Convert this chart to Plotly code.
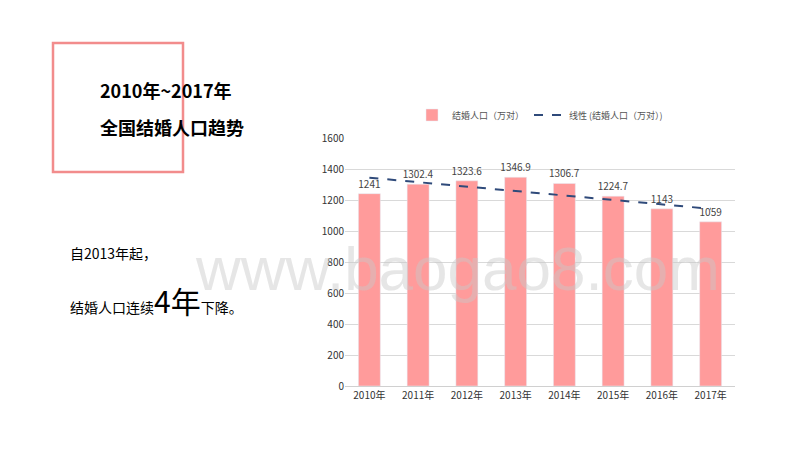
import numpy as np
import plotly.graph_objects as go

years = ["2010年", "2011年", "2012年", "2013年", "2014年", "2015年", "2016年", "2017年"]
marriages = [1241, 1302.4, 1323.6, 1346.9, 1306.7, 1224.7, 1143, 1059]
y_ticks = [0, 200, 400, 600, 800, 1000, 1200, 1400, 1600]

# linear trendline, like the spreadsheet one
idx = np.arange(len(marriages))
k, b = np.polyfit(idx, marriages, 1)
trend = k * idx + b

OFF = 8  # page body margin
W, H = 784, 434
L, R, T, B = 345 - OFF, 735 - OFF, 138 - OFF, 386 - OFF
def px(x):
    return (x - OFF - L) / (R - L)
def py(y):
    return (B - (y - OFF)) / (B - T)

font = "Noto Sans CJK SC"
fig = go.Figure()
fig.add_bar(x=years, y=marriages, name="结婚人口（万对）", marker_color="#FF9B9B",
            width=0.45, text=[f"{v:g}" for v in marriages], textposition="outside",
            constraintext="none", textfont=dict(size=10, color="#444"), cliponaxis=False)
fig.add_scatter(x=years, y=trend, mode="lines", name="线性 (结婚人口（万对）)",
                line=dict(color="#2F4A7A", width=2, dash="dash"))

fig.update_layout(
    width=W, height=H, margin=dict(l=L, r=W - R, t=T, b=H - B),
    plot_bgcolor="white", paper_bgcolor="white",
    font=dict(family=font, size=10, color="#333"),
    legend=dict(orientation="h", x=0.5, xanchor="center", y=py(115), yanchor="middle",
                font=dict(size=9, color="#555")),
    xaxis=dict(showline=True, linecolor="#d0d0d0", tickfont=dict(size=10)),
    yaxis=dict(range=[0, 1600], tickvals=y_ticks, gridcolor="#d9d9d9",
               zeroline=False, tickfont=dict(size=10)),
    shapes=[dict(type="rect", xref="paper", yref="paper", x0=px(53), x1=px(183),
                 y0=py(172), y1=py(43), line=dict(color="#F28C8C", width=2.5))],
)

def note(x, y, text, size):
    fig.add_annotation(xref="paper", yref="paper", x=px(x), y=py(y), text=text,
                       showarrow=False, xanchor="left", yanchor="middle",
                       font=dict(family=font, size=size, color="black"))

note(98, 90, "<b>2010年~2017年</b>", 18)
note(98, 127, "<b>全国结婚人口趋势</b>", 18)
note(68, 253, "自2013年起，", 14)
note(68, 300, "结婚人口连续<span style='font-size:30px'>4年</span>下降。", 14)
fig.add_annotation(xref="paper", yref="paper", x=px(457), y=py(268), text="www.baogao8.com",
                   showarrow=False, xanchor="center",
                   font=dict(family="Liberation Sans", size=62, color="rgba(200,200,200,0.45)"))

fig.write_html("out.html")
